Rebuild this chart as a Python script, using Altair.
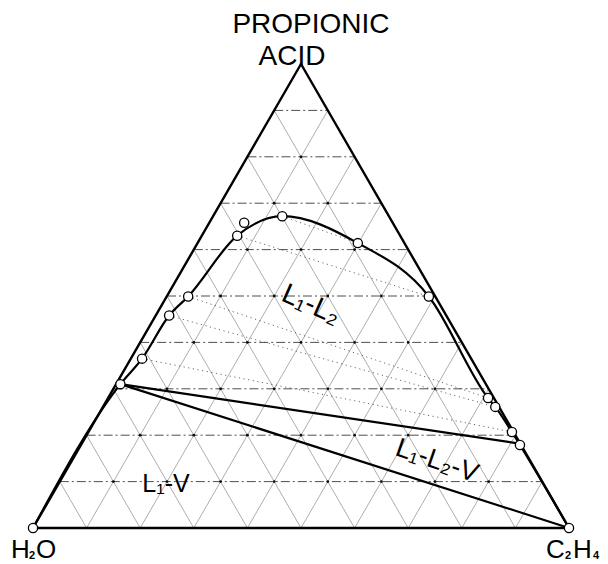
import numpy as np
import pandas as pd
import altair as alt

# Ternary system: propionic acid (apex), water (left), ethylene (right).
# Compositions are mole fractions: acid and ethylene; water = 1 - acid - ethylene.

# Binodal (two-liquid boundary), ordered from the water corner to the ethylene corner
bin_acid = [0.000, 0.310, 0.365, 0.458, 0.499, 0.630, 0.672, 0.614, 0.499, 0.280, 0.261, 0.207, 0.179, 0.000]
bin_eth = [0.000, 0.008, 0.021, 0.025, 0.040, 0.066, 0.129, 0.299, 0.489, 0.709, 0.732, 0.790, 0.819, 1.000]

# Additional measured point off the fitted curve
extra_acid = [0.658]
extra_eth = [0.065]

# Tie lines: acid-rich (left) phase to ethylene-rich (right) phase
tie_l_acid = [0.365, 0.458, 0.499, 0.630, 0.672]
tie_l_eth = [0.021, 0.025, 0.040, 0.066, 0.129]
tie_r_acid = [0.207, 0.261, 0.280, 0.499, 0.614]
tie_r_eth = [0.790, 0.732, 0.709, 0.489, 0.299]

# Three-phase triangle L1 - L2 - V
tri3_names = ["L1", "L2", "V"]
tri3_acid = [0.310, 0.183, 0.000]
tri3_eth = [0.008, 0.810, 1.000]

# Grid levels
grid_levels = [0.1, 0.2, 0.3, 0.4, 0.5, 0.6, 0.7, 0.8, 0.9]

H = np.sqrt(3) / 2


def to_x(a, e):
    return np.asarray(e, float) + np.asarray(a, float) / 2


def to_y(a):
    return np.asarray(a, float) * H


xs = alt.Scale(domain=[0, 1], nice=False, zero=False)
ys = alt.Scale(domain=[0, H], nice=False, zero=False)


def seg_frame(a1, e1, a2, e2):
    return pd.DataFrame({
        "x": to_x(a1, e1), "y": to_y(a1),
        "x2": to_x(a2, e2), "y2": to_y(a2),
    })


def rules(df, **style):
    return alt.Chart(df).mark_rule(**style).encode(
        x=alt.X("x:Q", scale=xs, axis=None),
        y=alt.Y("y:Q", scale=ys, axis=None),
        x2="x2:Q",
        y2="y2:Q",
    )


g = np.array(grid_levels)
zeros = np.zeros_like(g)

# constant acid (horizontal), constant ethylene, constant water
grid_h = seg_frame(g, zeros, g, 1 - g)
grid_e = seg_frame(zeros, g, 1 - g, g)
grid_w = seg_frame(1 - g, zeros, zeros, 1 - g)
grid_slant = pd.concat([grid_e, grid_w], ignore_index=True)

node_a, node_e = [], []
for i in range(1, 10):
    for j in range(1, 10):
        if i + j <= 9:
            node_a.append(i / 10)
            node_e.append(j / 10)
nodes = pd.DataFrame({"x": to_x(node_a, node_e), "y": to_y(node_a)})

edges = seg_frame([0, 0, 1], [0, 1, 0], [0, 1, 0], [1, 0, 0])

ties = seg_frame(tie_l_acid, tie_l_eth, tie_r_acid, tie_r_eth)

tri3 = seg_frame([tri3_acid[0], tri3_acid[0]], [tri3_eth[0], tri3_eth[0]],
                 [tri3_acid[1], tri3_acid[2]], [tri3_eth[1], tri3_eth[2]])

binodal = pd.DataFrame({
    "x": to_x(bin_acid, bin_eth), "y": to_y(bin_acid),
    "i": range(len(bin_acid)),
})
circles = pd.DataFrame({
    "x": to_x(bin_acid + extra_acid, bin_eth + extra_eth),
    "y": to_y(bin_acid + extra_acid),
})

layer_grid_slant = rules(grid_slant, color="#5a5a5a", strokeWidth=0.5)
layer_grid_h = rules(grid_h, color="#222222", strokeWidth=0.8, strokeDash=[9, 3, 2, 3])
layer_nodes = alt.Chart(nodes).mark_circle(size=8, color="black", opacity=0.9).encode(
    x=alt.X("x:Q", scale=xs, axis=None), y=alt.Y("y:Q", scale=ys, axis=None)
)
layer_ties = rules(ties, color="#444444", strokeWidth=0.8, strokeDash=[1.2, 3.5])
layer_tri3 = rules(tri3, color="black", strokeWidth=2.2, strokeCap="round")
layer_edges = rules(edges, color="black", strokeWidth=2.4, strokeCap="round")
layer_binodal = alt.Chart(binodal).mark_line(
    color="black", strokeWidth=2.2, interpolate="monotone"
).encode(
    x=alt.X("x:Q", scale=xs, axis=None),
    y=alt.Y("y:Q", scale=ys, axis=None),
    order="i:Q",
)
layer_circles = alt.Chart(circles).mark_point(
    shape="circle", size=85, filled=True, fill="white", stroke="black",
    strokeWidth=1.3, opacity=1
).encode(x=alt.X("x:Q", scale=xs, axis=None), y=alt.Y("y:Q", scale=ys, axis=None))

# Text labels (pixel offsets from the plot origin)
OX, OY = 33, 64
FONT = "Liberation Sans"


def label(text, X, Y, size, align="center", baseline="alphabetic", angle=0, weight="normal"):
    kw = dict(text=text, align=align, baseline=baseline, fontSize=size,
              font=FONT, color="black", fontWeight=weight)
    if angle:
        kw["angle"] = angle
    return alt.Chart(pd.DataFrame({"k": [0]})).mark_text(**kw).encode(
        x=alt.value(X - OX), y=alt.value(Y - OY)
    )


labels = [
    label("PROPIONIC", 311, 33, 28),
    label("ACID", 292, 65, 28),
    label("H", 11, 558, 26, align="left"),
    label("2", 29, 559, 11, align="left", weight="bold"),
    label("O", 36, 558, 26, align="left"),
    label("C", 546, 558, 26, align="left"),
    label("2", 565, 559, 11, align="left", weight="bold"),
    label("H", 573, 558, 26, align="left"),
    label("4", 593, 559, 11, align="left", weight="bold"),
    label("L\u2081-L\u2082", 311, 305, 28, baseline="middle", angle=24),
    label("L\u2081-L\u2082-V", 437, 461, 27, baseline="middle", angle=19),
    label("L\u2081-V", 166, 484, 25, baseline="middle"),
]

chart = alt.layer(
    layer_grid_slant, layer_grid_h, layer_nodes, layer_ties,
    layer_tri3, layer_edges, layer_binodal, layer_circles, *labels
).properties(
    width=536,
    height=464,
    padding={"left": 33, "top": 64, "right": 39, "bottom": 36},
    autosize=alt.AutoSizeParams(type="none"),
    background="white",
).configure_view(stroke=None)

chart.save("out.html", embed_options={"renderer": "svg", "actions": False})
